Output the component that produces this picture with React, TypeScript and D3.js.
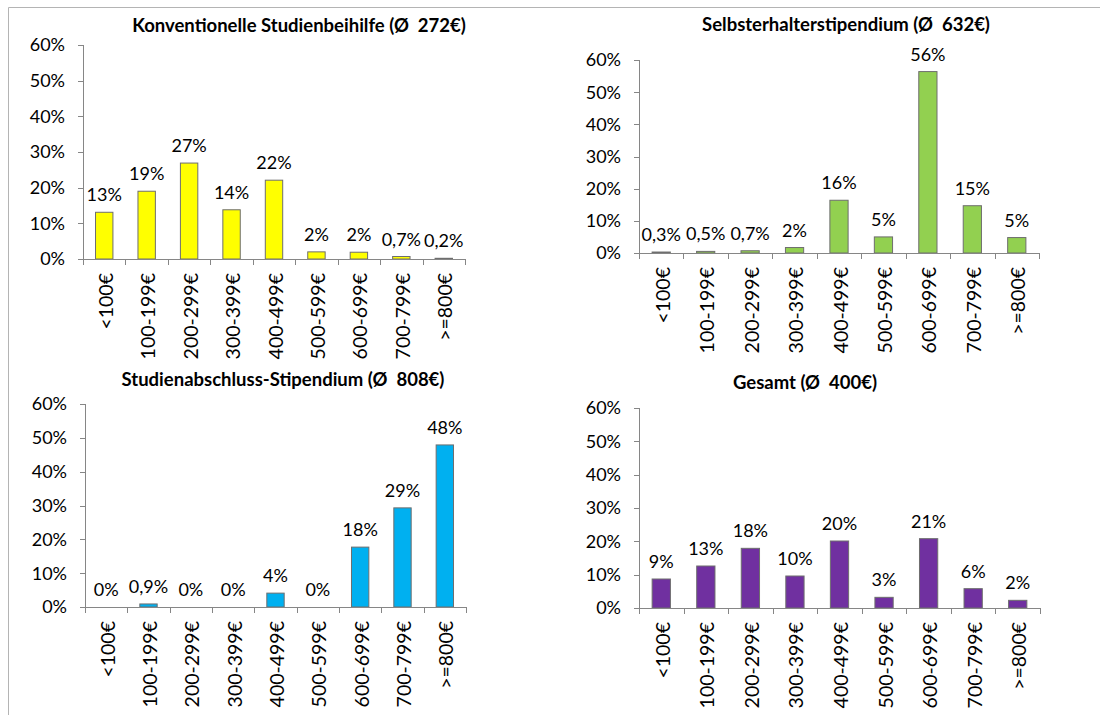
import React from "react";
import * as d3 from "d3";

const categories = ["<100€", "100-199€", "200-299€", "300-399€", "400-499€", "500-599€", "600-699€", "700-799€", ">=800€"];
const yTicks = [0, 10, 20, 30, 40, 50, 60];

const titles = [
  "Konventionelle Studienbeihilfe (Ø  272€)",
  "Selbsterhalterstipendium (Ø  632€)",
  "Studienabschluss-Stipendium (Ø  808€)",
  "Gesamt (Ø  400€)",
];

const konventionell = [13.1, 19.0, 26.9, 13.8, 22.1, 2.0, 1.9, 0.7, 0.2];
const selbsterhalter = [0.3, 0.5, 0.7, 1.7, 16.4, 5.0, 56.4, 14.7, 4.8];
const studienabschluss = [0, 0.9, 0, 0, 4.1, 0, 17.7, 29.3, 47.9];
const gesamt = [8.7, 12.6, 17.9, 9.6, 20.1, 3.2, 20.8, 5.8, 2.3];

const seriesList = [konventionell, selbsterhalter, studienabschluss, gesamt];
const colors = ["#FFFF00", "#92D050", "#00B0F0", "#7030A0"];

// layout of the four panels (pixels)
const layouts = [
  { axisX: 83, y0: 259, yTop: 45, xEnd: 465, titleX: 299, titleY: 32 },
  { axisX: 639, y0: 253, yTop: 60, xEnd: 1039, titleX: 846, titleY: 31 },
  { axisX: 85, y0: 607, yTop: 404, xEnd: 466, titleX: 283, titleY: 386 },
  { axisX: 639, y0: 608, yTop: 408, xEnd: 1040, titleX: 805, titleY: 389 },
];

const FONT = "Lato, 'Open Sans', sans-serif";
const AXIS = "#868686";
const FS = 18;
const XFS = 19.5;

function fmt(v: number): string {
  if (v === 0 || v >= 1) return `${Math.round(v)}%`;
  return `${v.toFixed(1).replace(".", ",")}%`;
}

function Panel({ idx }: { idx: number }) {
  const L = layouts[idx];
  const values = seriesList[idx];
  const x = d3.scaleBand<string>().domain(categories).range([L.axisX, L.xEnd]).paddingInner(0).paddingOuter(0);
  const y = d3.scaleLinear().domain([0, 60]).range([L.y0, L.yTop]);
  const bw = x.bandwidth() * 0.41;
  const bounds = categories.map((c) => x(c)!).concat([L.xEnd]);
  return (
    <g>
      <text x={L.titleX} y={L.titleY} textAnchor="middle" fontFamily={FONT} fontWeight="bold" fontSize={18.5} fill="#000" style={{ whiteSpace: "pre" }}>
        {titles[idx]}
      </text>
      {/* y axis */}
      <line x1={L.axisX + 0.5} x2={L.axisX + 0.5} y1={y(60)} y2={y(0)} stroke={AXIS} />
      {yTicks.map((t) => (
        <g key={t}>
          <line x1={L.axisX - 5} x2={L.axisX + 0.5} y1={Math.round(y(t)) + 0.5} y2={Math.round(y(t)) + 0.5} stroke={AXIS} />
          <text x={L.axisX - 18} y={y(t)} dy="0.36em" textAnchor="end" fontFamily={FONT} fontSize={FS} fill="#000">
            {`${t}%`}
          </text>
        </g>
      ))}
      {/* bars */}
      {values.map((v, i) => {
        const cx = x(categories[i])! + x.bandwidth() / 2;
        const top = y(v);
        return (
          <g key={i}>
            {v > 0 && (
              <rect x={cx - bw / 2} y={top} width={bw} height={y(0) - top} fill={colors[idx]} stroke="#6e6e6e" strokeWidth={1} />
            )}
            <text x={cx} y={top - 11} textAnchor="middle" fontFamily={FONT} fontSize={FS} fill="#000">
              {fmt(v)}
            </text>
          </g>
        );
      })}
      {/* x axis */}
      <line x1={L.axisX} x2={L.xEnd} y1={Math.round(y(0)) + 0.5} y2={Math.round(y(0)) + 0.5} stroke={AXIS} />
      {bounds.map((b, i) => (
        <line key={i} x1={Math.round(b) + 0.5} x2={Math.round(b) + 0.5} y1={y(0)} y2={y(0) + 6} stroke={AXIS} />
      ))}
      {categories.map((c) => {
        const cx = x(c)! + x.bandwidth() / 2;
        const ty = y(0) + 14;
        return (
          <text key={c} transform={`translate(${cx + 1.5},${ty}) rotate(-90)`} dy="0.36em" textAnchor="end" fontFamily={FONT} fontSize={XFS} fill="#000">
            {c}
          </text>
        );
      })}
    </g>
  );
}

export default function App() {
  return (
    <svg width={1100} height={715} style={{ position: "absolute", left: 0, top: 0, background: "#fff" }}>
      <rect x={0} y={0} width={1100} height={715} fill="#fff" />
      <line x1={8.5} x2={8.5} y1={7.5} y2={715} stroke="#b4b4b4" />
      <line x1={8.5} x2={1100} y1={7.5} y2={7.5} stroke="#b4b4b4" />
      {layouts.map((_, i) => (
        <Panel key={i} idx={i} />
      ))}
    </svg>
  );
}
